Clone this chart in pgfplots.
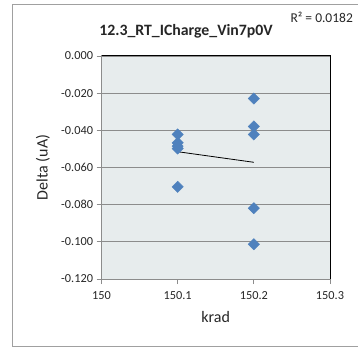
\documentclass[border=0pt]{standalone}
\usepackage{pgfplots}
\pgfplotsset{compat=1.18}
\usepackage{fontspec}
\setmainfont{Carlito}
\definecolor{bg}{RGB}{231,236,237}
\definecolor{ser}{RGB}{79,129,189}
\definecolor{gridc}{RGB}{140,140,140}
\definecolor{framec}{RGB}{160,160,160}
\begin{document}
\begin{tikzpicture}[x=1bp,y=1bp]
\useasboundingbox (0,0) rectangle (358,349);
\draw[color=framec, line width=1bp] (12.5,2.5) rectangle (375,344.5);
\begin{axis}[
  at={(101.5bp,70bp)}, anchor=south west,
  scale only axis, width=228.5bp, height=223bp,
  xmin=150, xmax=150.3, ymin=-0.12, ymax=0,
  xtick={150,150.1,150.2,150.3},
  xticklabels={150,150.1,150.2,150.3},
  ytick={0,-0.02,-0.04,-0.06,-0.08,-0.1,-0.12},
  yticklabels={0.000,-0.020,-0.040,-0.060,-0.080,-0.100,-0.120},
  axis background/.style={fill=bg},
  ymajorgrids, major grid style={color=gridc, line width=0.9bp},
  tick align=outside, major tick length=5bp,
  xtick pos=bottom, ytick pos=left,
  tick style={color=gridc, line width=0.8bp},
  axis line style={color=gridc, line width=1bp},
  tick label style={font=\fontsize{12.3bp}{14bp}\selectfont, color=black!85},
  xticklabel style={yshift=-4bp},
  xlabel={krad}, ylabel={Delta (uA)},
  label style={font=\fontsize{16bp}{18bp}\selectfont, color=black!85},
  xlabel style={at={(axis description cs:0.5,-0.197)}, anchor=base},
  ylabel style={at={(axis description cs:-0.256,0.5)}, anchor=center},
  clip=false,
]
\addplot[only marks, mark=square*, mark size=4bp, mark options={rotate=45, fill=ser, draw=ser}]
  coordinates {
  (150.1,-0.0422) (150.1,-0.0467) (150.1,-0.0485) (150.1,-0.0498) (150.1,-0.0704)
  (150.2,-0.0229) (150.2,-0.0379) (150.2,-0.0422) (150.2,-0.0819) (150.2,-0.1013)
  };
\addplot[black, line width=0.8bp, no marks] coordinates {(150.1,-0.0515) (150.2,-0.0572)};
\draw[black, line width=1bp] (rel axis cs:0,1) -- (rel axis cs:1,1) -- (rel axis cs:1,0);
\node[anchor=base, font=\bfseries\fontsize{15.8bp}{18bp}\selectfont, color=black!85] at (rel axis cs:0.370,1.0897) {12.3\_RT\_ICharge\_Vin7p0V};
\node[anchor=base west, font=\fontsize{13.5bp}{16bp}\selectfont, color=black!85] at (rel axis cs:0.812,1.152) {R² = 0.0182};
\end{axis}
\end{tikzpicture}
\end{document}
